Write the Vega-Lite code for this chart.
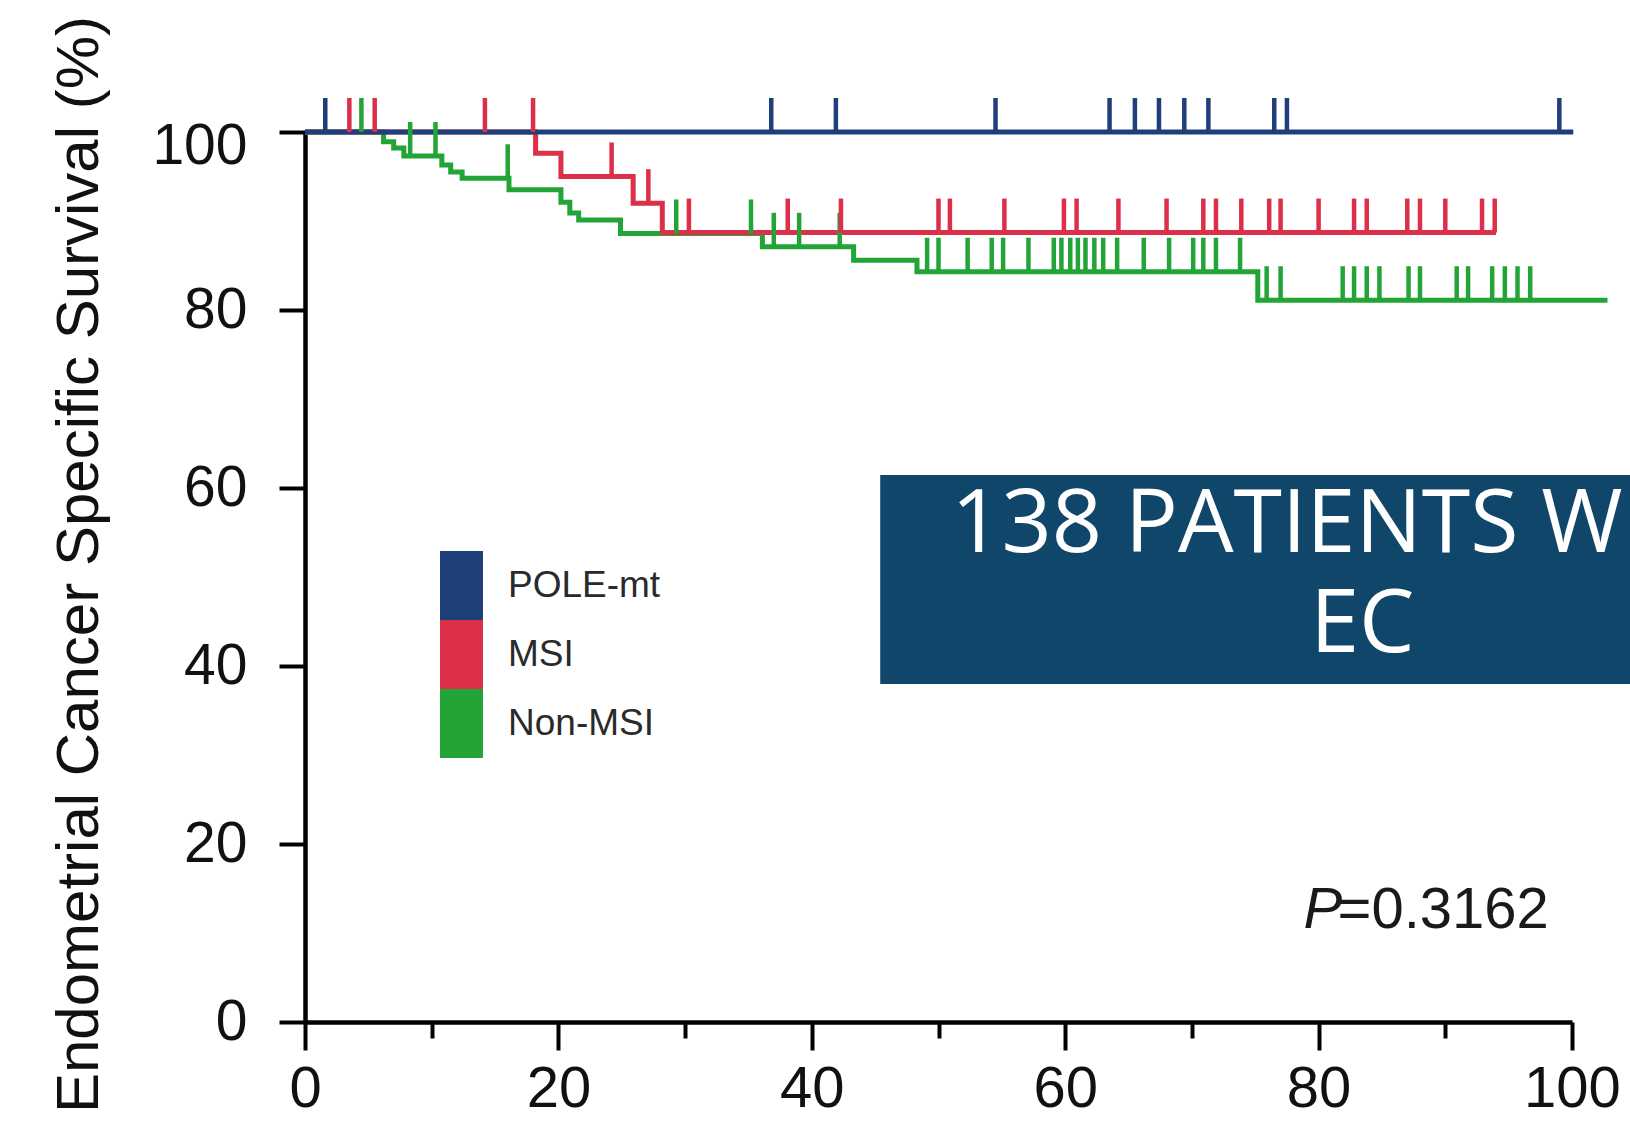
{
  "$schema": "https://vega.github.io/schema/vega-lite/v6.json",
  "width": 1267,
  "height": 890,
  "autosize": {"type": "none"},
  "padding": {"left": 305, "top": 132, "right": 58, "bottom": 107},
  "background": "white",
  "config": {"view": {"stroke": null}},
  "datasets": {
    "curves": [
      {"group": "Non-MSI", "t": 0, "s": 100},
      {"group": "Non-MSI", "t": 6.2, "s": 98.9},
      {"group": "Non-MSI", "t": 7.0, "s": 98.2},
      {"group": "Non-MSI", "t": 7.8, "s": 97.3},
      {"group": "Non-MSI", "t": 10.8, "s": 96.3},
      {"group": "Non-MSI", "t": 11.5, "s": 95.5},
      {"group": "Non-MSI", "t": 12.4, "s": 94.8},
      {"group": "Non-MSI", "t": 16.1, "s": 93.5},
      {"group": "Non-MSI", "t": 20.2, "s": 92.1},
      {"group": "Non-MSI", "t": 20.9, "s": 90.9},
      {"group": "Non-MSI", "t": 21.6, "s": 90.1},
      {"group": "Non-MSI", "t": 24.9, "s": 88.6},
      {"group": "Non-MSI", "t": 36.1, "s": 87.1},
      {"group": "Non-MSI", "t": 43.3, "s": 85.6},
      {"group": "Non-MSI", "t": 48.3, "s": 84.3},
      {"group": "Non-MSI", "t": 75.2, "s": 81.1},
      {"group": "Non-MSI", "t": 102.8, "s": 81.1},
      {"group": "MSI", "t": 0, "s": 100},
      {"group": "MSI", "t": 18.2, "s": 97.6},
      {"group": "MSI", "t": 20.2, "s": 95.0},
      {"group": "MSI", "t": 25.9, "s": 92.0},
      {"group": "MSI", "t": 28.2, "s": 88.7},
      {"group": "MSI", "t": 94.0, "s": 88.7},
      {"group": "POLE-mt", "t": 0, "s": 100},
      {"group": "POLE-mt", "t": 100.1, "s": 100}
    ],
    "censors": [
      {"group": "Non-MSI", "t": 4.45, "s": 100},
      {"group": "Non-MSI", "t": 8.3, "s": 97.3},
      {"group": "Non-MSI", "t": 10.3, "s": 97.3},
      {"group": "Non-MSI", "t": 16.0, "s": 94.8},
      {"group": "Non-MSI", "t": 29.3, "s": 88.6},
      {"group": "Non-MSI", "t": 35.2, "s": 88.6},
      {"group": "Non-MSI", "t": 37.0, "s": 87.1},
      {"group": "Non-MSI", "t": 39.0, "s": 87.1},
      {"group": "Non-MSI", "t": 42.2, "s": 87.1},
      {"group": "Non-MSI", "t": 49.1, "s": 84.3},
      {"group": "Non-MSI", "t": 50.0, "s": 84.3},
      {"group": "Non-MSI", "t": 52.3, "s": 84.3},
      {"group": "Non-MSI", "t": 54.2, "s": 84.3},
      {"group": "Non-MSI", "t": 55.1, "s": 84.3},
      {"group": "Non-MSI", "t": 57.1, "s": 84.3},
      {"group": "Non-MSI", "t": 59.1, "s": 84.3},
      {"group": "Non-MSI", "t": 59.7, "s": 84.3},
      {"group": "Non-MSI", "t": 60.4, "s": 84.3},
      {"group": "Non-MSI", "t": 61.0, "s": 84.3},
      {"group": "Non-MSI", "t": 61.6, "s": 84.3},
      {"group": "Non-MSI", "t": 62.3, "s": 84.3},
      {"group": "Non-MSI", "t": 63.0, "s": 84.3},
      {"group": "Non-MSI", "t": 64.1, "s": 84.3},
      {"group": "Non-MSI", "t": 66.2, "s": 84.3},
      {"group": "Non-MSI", "t": 68.2, "s": 84.3},
      {"group": "Non-MSI", "t": 70.1, "s": 84.3},
      {"group": "Non-MSI", "t": 70.9, "s": 84.3},
      {"group": "Non-MSI", "t": 71.9, "s": 84.3},
      {"group": "Non-MSI", "t": 73.8, "s": 84.3},
      {"group": "Non-MSI", "t": 75.9, "s": 81.1},
      {"group": "Non-MSI", "t": 77.0, "s": 81.1},
      {"group": "Non-MSI", "t": 81.9, "s": 81.1},
      {"group": "Non-MSI", "t": 82.8, "s": 81.1},
      {"group": "Non-MSI", "t": 83.8, "s": 81.1},
      {"group": "Non-MSI", "t": 84.8, "s": 81.1},
      {"group": "Non-MSI", "t": 87.1, "s": 81.1},
      {"group": "Non-MSI", "t": 88.0, "s": 81.1},
      {"group": "Non-MSI", "t": 90.9, "s": 81.1},
      {"group": "Non-MSI", "t": 91.8, "s": 81.1},
      {"group": "Non-MSI", "t": 93.7, "s": 81.1},
      {"group": "Non-MSI", "t": 94.7, "s": 81.1},
      {"group": "Non-MSI", "t": 95.7, "s": 81.1},
      {"group": "Non-MSI", "t": 96.7, "s": 81.1},
      {"group": "MSI", "t": 3.5, "s": 100},
      {"group": "MSI", "t": 5.5, "s": 100},
      {"group": "MSI", "t": 14.2, "s": 100},
      {"group": "MSI", "t": 18.0, "s": 100},
      {"group": "MSI", "t": 24.2, "s": 95.0},
      {"group": "MSI", "t": 27.1, "s": 92.0},
      {"group": "MSI", "t": 30.3, "s": 88.7},
      {"group": "MSI", "t": 38.1, "s": 88.7},
      {"group": "MSI", "t": 42.3, "s": 88.7},
      {"group": "MSI", "t": 50.0, "s": 88.7},
      {"group": "MSI", "t": 50.9, "s": 88.7},
      {"group": "MSI", "t": 55.2, "s": 88.7},
      {"group": "MSI", "t": 59.9, "s": 88.7},
      {"group": "MSI", "t": 60.9, "s": 88.7},
      {"group": "MSI", "t": 64.2, "s": 88.7},
      {"group": "MSI", "t": 68.0, "s": 88.7},
      {"group": "MSI", "t": 70.9, "s": 88.7},
      {"group": "MSI", "t": 71.9, "s": 88.7},
      {"group": "MSI", "t": 73.9, "s": 88.7},
      {"group": "MSI", "t": 76.1, "s": 88.7},
      {"group": "MSI", "t": 77.0, "s": 88.7},
      {"group": "MSI", "t": 80.0, "s": 88.7},
      {"group": "MSI", "t": 82.8, "s": 88.7},
      {"group": "MSI", "t": 83.8, "s": 88.7},
      {"group": "MSI", "t": 87.0, "s": 88.7},
      {"group": "MSI", "t": 88.0, "s": 88.7},
      {"group": "MSI", "t": 90.0, "s": 88.7},
      {"group": "MSI", "t": 92.9, "s": 88.7},
      {"group": "MSI", "t": 93.9, "s": 88.7},
      {"group": "POLE-mt", "t": 1.6, "s": 100},
      {"group": "POLE-mt", "t": 36.8, "s": 100},
      {"group": "POLE-mt", "t": 41.9, "s": 100},
      {"group": "POLE-mt", "t": 54.5, "s": 100},
      {"group": "POLE-mt", "t": 63.5, "s": 100},
      {"group": "POLE-mt", "t": 65.5, "s": 100},
      {"group": "POLE-mt", "t": 67.4, "s": 100},
      {"group": "POLE-mt", "t": 69.4, "s": 100},
      {"group": "POLE-mt", "t": 71.3, "s": 100},
      {"group": "POLE-mt", "t": 76.5, "s": 100},
      {"group": "POLE-mt", "t": 77.5, "s": 100},
      {"group": "POLE-mt", "t": 99.0, "s": 100}
    ]
  },
  "layer": [
    {
      "data": {"name": "curves"},
      "mark": {"type": "line", "interpolate": "step-after", "strokeWidth": 5, "clip": false},
      "encoding": {
        "x": {
          "field": "t", "type": "quantitative",
          "scale": {"domain": [0, 100], "nice": false, "zero": false},
          "axis": {
            "title": null,
            "values": [0, 10, 20, 30, 40, 50, 60, 70, 80, 90, 100],
            "labelExpr": "datum.value % 20 === 0 ? datum.label : ''",
            "tickSize": {"condition": {"test": "datum.value % 20 === 0", "value": 28}, "value": 16},
            "tickWidth": 4,
            "tickColor": "#000",
            "domainColor": "#000",
            "domainWidth": 4.5,
            "grid": false,
            "labelFont": "Liberation Sans",
            "labelFontSize": 58,
            "labelColor": "#111",
            "labelPadding": 10,
            "labelFlush": false,
            "labelOverlap": false,
            "labelBound": false
          }
        },
        "y": {
          "field": "s", "type": "quantitative",
          "scale": {"domain": [0, 100], "nice": false},
          "axis": {
            "title": "Endometrial Cancer Specific Survival (%)",
            "titleFont": "Liberation Sans",
            "titleFontSize": 60,
            "titleFontWeight": "normal",
            "titleColor": "#111",
            "titleAngle": -90,
            "titleX": -208,
            "titleY": 432,
            "titleAlign": "center",
            "titleBaseline": "alphabetic",
            "values": [0, 20, 40, 60, 80, 100],
            "tickSize": 26,
            "tickWidth": 4,
            "tickColor": "#000",
            "domainColor": "#000",
            "domainWidth": 4.5,
            "grid": false,
            "labelFont": "Liberation Sans",
            "labelFontSize": 57,
            "labelColor": "#111",
            "labelPadding": 32,
            "labelOffset": {"condition": {"test": "datum.value === 100", "value": 14}, "value": 0},
            "labelFlush": false,
            "labelOverlap": false,
            "labelBaseline": "middle"
          }
        },
        "color": {
          "field": "group", "type": "nominal",
          "scale": {"domain": ["POLE-mt", "MSI", "Non-MSI"], "range": ["#1f3f7a", "#dc2f4a", "#23a436"]},
          "legend": {
            "orient": "none",
            "legendX": 135,
            "legendY": 432,
            "title": null,
            "padding": 0,
            "rowPadding": 0,
            "symbolType": "M-1,-1.6H1V1.6H-1Z",
            "symbolSize": 1849,
            "symbolStrokeWidth": 0,
            "labelFont": "Liberation Sans",
            "labelFontSize": 37,
            "labelColor": "#2a2a2a",
            "labelOffset": 25,
            "encode": {
              "symbols": {"update": {"fill": {"scale": "color", "field": "value"}, "stroke": {"value": "transparent"}, "opacity": {"value": 1}, "size": {"value": 1849}, "shape": {"value": "M-1,-1.6H1V1.6H-1Z"}}}
            }
          }
        }
      }
    },
    {
      "data": {"name": "censors"},
      "mark": {"type": "tick", "orient": "vertical", "size": 34, "thickness": 4.5, "yOffset": -17, "clip": false, "opacity": 1},
      "encoding": {
        "x": {"field": "t", "type": "quantitative", "scale": {"domain": [0, 100]}},
        "y": {"field": "s", "type": "quantitative", "scale": {"domain": [0, 100]}},
        "color": {"field": "group", "type": "nominal"}
      }
    },
    {
      "data": {"values": [{}]},
      "mark": {"type": "rect", "color": "#0f4669", "clip": false},
      "encoding": {
        "x": {"datum": 45.4, "type": "quantitative"},
        "x2": {"datum": 125},
        "y": {"datum": 61.46, "type": "quantitative"},
        "y2": {"datum": 37.98}
      }
    },
    {
      "data": {"values": [{}]},
      "mark": {"type": "text", "text": "138 PATIENTS WITH", "font": "Open Sans", "fontSize": 88, "color": "white", "align": "left", "baseline": "alphabetic"},
      "encoding": {
        "x": {"datum": 51.0, "type": "quantitative"},
        "y": {"datum": 52.8, "type": "quantitative"}
      }
    },
    {
      "data": {"values": [{}]},
      "mark": {"type": "text", "text": "EC", "font": "Open Sans", "fontSize": 88, "color": "white", "align": "center", "baseline": "alphabetic"},
      "encoding": {
        "x": {"datum": 83.45, "type": "quantitative"},
        "y": {"datum": 41.57, "type": "quantitative"}
      }
    },
    {
      "data": {"values": [{}]},
      "mark": {"type": "text", "text": "P", "font": "Liberation Sans", "fontStyle": "italic", "fontSize": 58, "color": "#1a1a1a", "align": "left", "baseline": "alphabetic"},
      "encoding": {
        "x": {"datum": 78.8, "type": "quantitative"},
        "y": {"datum": 10.56, "type": "quantitative"}
      }
    },
    {
      "data": {"values": [{}]},
      "mark": {"type": "text", "text": "=0.3162", "font": "Liberation Sans", "fontSize": 58, "color": "#1a1a1a", "align": "left", "baseline": "alphabetic"},
      "encoding": {
        "x": {"datum": 81.5, "type": "quantitative"},
        "y": {"datum": 10.56, "type": "quantitative"}
      }
    }
  ]
}
